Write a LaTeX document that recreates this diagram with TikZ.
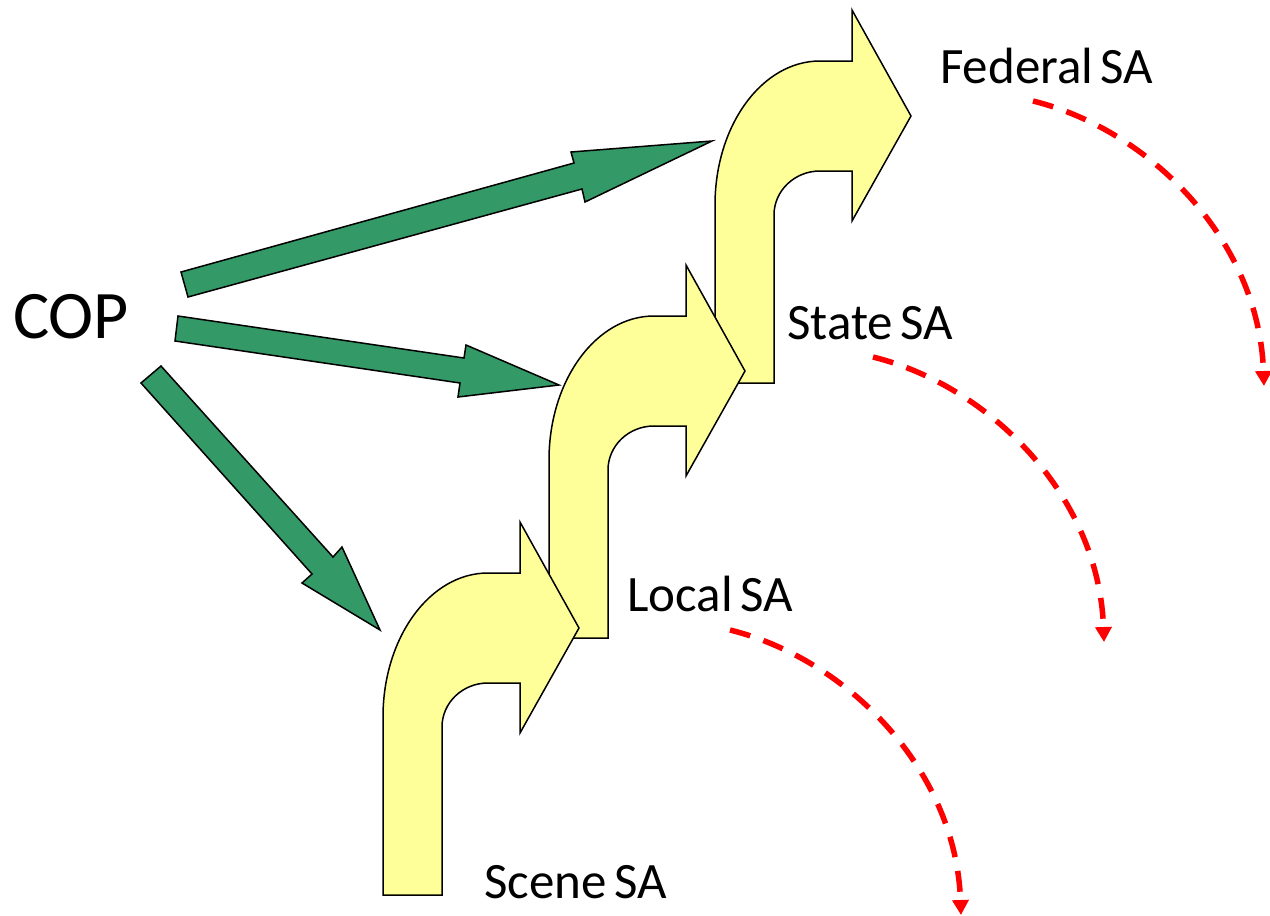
\documentclass[tikz,border=0pt]{standalone}
\usepackage{fontspec}
\setmainfont{Carlito}
\newfontfamily\labelfont[WordSpace=0.66]{Carlito}
\usetikzlibrary{arrows.meta}
\definecolor{flowgreen}{HTML}{339966}
\definecolor{stepyellow}{HTML}{FFFF99}
\definecolor{arcred}{HTML}{FF0000}
\begin{document}
\begin{tikzpicture}[x=1pt,y=1pt,
  bentarrow/.style={fill=stepyellow, draw=black, line width=1.5pt, line join=miter},
  blockarrow/.style={fill=flowgreen, draw=black, line width=1.5pt, line join=miter},
  feedback/.style={draw=arcred, line width=5.5pt, dash pattern=on 21pt off 14pt,
    -{Triangle[width=16pt,length=15pt]}},
  levellabel/.style={anchor=base west, inner sep=0pt,
    font=\labelfont\fontsize{51}{60}\selectfont},
  pics/bent/.style={code={
    \draw[bentarrow] (0,0) -- (59,0) -- (59,168)
      arc[start angle=180, end angle=90, x radius=46, y radius=44]
      -- (137,212) -- (137,162) -- (196,267) -- (137,373) -- (137,322) -- (105,322)
      arc[start angle=90, end angle=180, x radius=105, y radius=144] -- cycle;
  }}]
\useasboundingbox (0,0) rectangle (1270,-916);

% COP label and its three block arrows
\node[anchor=base west, inner sep=0pt, font=\fontsize{68}{80}\selectfont] (cop) at (13,-338) {COP};
\draw[blockarrow] (181,-272) -- (574,-163) -- (571,-152) -- (712,-141)
  -- (585,-202) -- (582,-189) -- (188,-297) -- cycle;
\draw[blockarrow] (178,-316) -- (464,-358) -- (466,-345) -- (559,-385)
  -- (458,-397) -- (460,-383) -- (175,-341) -- cycle;
\draw[blockarrow] (161,-366) -- (333,-557) -- (342,-547) -- (380,-630)
  -- (302,-583) -- (312,-574) -- (141,-383) -- cycle;

% staircase of bent arrows, lower ones on top
\pic (federalstep) at (715,-383) {bent};
\pic (statestep) at (549,-638) {bent};
\pic (scenestep) at (383,-895) {bent};

% level labels
\node[levellabel] (federal) at (940,-83) {Federal SA};
\node[levellabel] (state) at (787,-339) {State SA};
\node[levellabel] (local) at (627,-611) {Local SA};
\node[levellabel] (scene) at (484,-898) {Scene SA};

% dashed feedback arcs
\foreach \dx/\dy in {0/0, -160/-256, -303/-529}{
  \draw[feedback, shift={(\dx,\dy)}] (1033,-101)
    .. controls (1150,-130) and (1259,-240) .. (1264,-386);
}
\end{tikzpicture}
\end{document}
